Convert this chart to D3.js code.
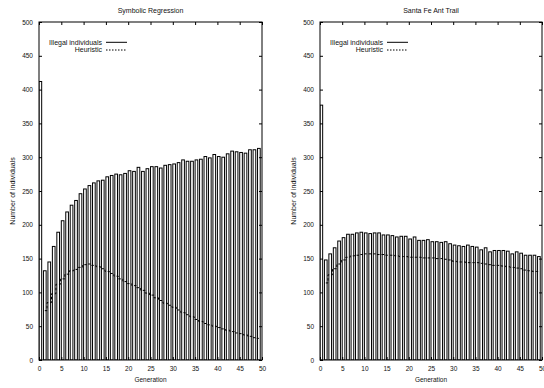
<!DOCTYPE html>
<html>
<head>
<meta charset="utf-8">
<script src="https://cdn.jsdelivr.net/npm/d3@7"></script>
<style>
  body { margin: 0; background: #fff; }
  svg text { font-family: "Liberation Sans", Arial, sans-serif; fill: #111; }
</style>
</head>
<body>
<script>
// generations 0..49
const generations = d3.range(0, 50);

const srIllegal = [412, 132, 145, 168, 189, 206, 219, 229, 236, 246,
  253, 258, 262, 265, 266, 271, 273, 275, 274, 276,
  280, 279, 285, 279, 283, 286, 286, 284, 288, 289,
  290, 292, 296, 294, 294, 296, 297, 301, 299, 304,
  301, 300, 305, 309, 308, 307, 306, 311, 311, 313];
const srHeuristic = [null, 73, 85, 98, 112, 120, 127, 132, 134, 137,
  141, 142, 140, 138, 135, 131, 128, 124, 120, 116,
  113, 110, 107, 103, 99, 96, 92, 88, 84, 81,
  78, 74, 70, 67, 64, 60, 57, 54, 52, 50,
  48, 46, 44, 42, 40, 39, 37, 35, 33, 32];

const antIllegal = [377, 148, 157, 166, 176, 181, 186, 186, 188, 189,
  188, 187, 188, 188, 185, 185, 184, 182, 183, 183,
  179, 182, 177, 177, 178, 175, 175, 174, 175, 172,
  170, 169, 168, 170, 168, 167, 163, 166, 160, 162,
  162, 162, 161, 157, 160, 158, 155, 155, 155, 153];
const antHeuristic = [null, 114, 126, 135, 142, 148, 152, 154, 155, 156,
  157, 157, 157, 156, 156, 155, 155, 154, 153, 153,
  152, 152, 152, 151, 151, 151, 150, 150, 149, 148,
  146, 145, 145, 144, 144, 144, 143, 142, 141, 140,
  140, 139, 138, 137, 136, 135, 133, 132, 131, 131];

const xTicks = d3.range(0, 51, 5);
const yTicks = d3.range(0, 501, 50);

const W = 544, H = 388;
const svg = d3.select("body").append("svg")
  .attr("width", W)
  .attr("height", H);

function panel(opts) {
  const { left, right, top, bottom, title, illegal, heuristic, clipId } = opts;
  const g = svg.append("g");

  const x = d3.scaleLinear().domain([0, 50]).range([left, right]);
  const y = d3.scaleLinear().domain([0, 500]).range([bottom, top]);

  g.append("clipPath").attr("id", clipId)
    .append("rect")
    .attr("x", left).attr("y", top)
    .attr("width", right - left).attr("height", bottom - top);

  const plot = g.append("g").attr("clip-path", `url(#${clipId})`);

  // boxes
  const bw = 0.6;
  plot.selectAll("rect.bar")
    .data(generations)
    .enter()
    .append("rect")
    .attr("class", "bar")
    .attr("x", d => x(d))
    .attr("width", d => x(d + bw) - x(d))
    .attr("y", d => y(illegal[d]))
    .attr("height", d => y(0) - y(illegal[d]))
    .attr("fill", "#fff")
    .attr("stroke", "#000")
    .attr("stroke-width", 1);

  // heuristic steps
  const line = d3.line()
    .defined(d => heuristic[d] != null)
    .x(d => x(d + 0.3))
    .y(d => y(heuristic[d]))
    .curve(d3.curveStep);
  plot.append("path")
    .attr("d", line(generations))
    .attr("fill", "none")
    .attr("stroke", "#000")
    .attr("stroke-width", 1)
    .attr("stroke-dasharray", "2.5,2");

  // axes, gnuplot style: ticks inside on all four sides
  g.append("g")
    .attr("transform", `translate(0,${bottom})`)
    .call(d3.axisBottom(x).tickValues(xTicks).tickSizeInner(-3).tickSizeOuter(0).tickPadding(6))
    .call(a => a.select(".domain").remove());
  g.append("g")
    .attr("transform", `translate(0,${top})`)
    .call(d3.axisTop(x).tickValues(xTicks).tickSizeInner(-3).tickSizeOuter(0).tickFormat(""))
    .call(a => a.select(".domain").remove());
  g.append("g")
    .attr("transform", `translate(${left},0)`)
    .call(d3.axisLeft(y).tickValues(yTicks).tickSizeInner(-3).tickSizeOuter(0).tickPadding(6))
    .call(a => a.select(".domain").remove());
  g.append("g")
    .attr("transform", `translate(${right},0)`)
    .call(d3.axisRight(y).tickValues(yTicks).tickSizeInner(-3).tickSizeOuter(0).tickFormat(""))
    .call(a => a.select(".domain").remove());
  g.selectAll(".tick text").style("font-size", "6.5px").attr("fill", "#111");
  g.selectAll(".tick line").attr("stroke", "#000");

  // border
  g.append("rect")
    .attr("x", left).attr("y", top)
    .attr("width", right - left).attr("height", bottom - top)
    .attr("fill", "none")
    .attr("stroke", "#000")
    .attr("stroke-width", 1);

  // title and labels
  const cx = (left + right) / 2;
  g.append("text")
    .attr("x", cx).attr("y", 13)
    .attr("text-anchor", "middle")
    .style("font-size", "7px")
    .text(title);
  g.append("text")
    .attr("x", cx).attr("y", 382)
    .attr("text-anchor", "middle")
    .style("font-size", "6.5px")
    .text("Generation");
  g.append("text")
    .attr("transform", `translate(${left - 24},${(top + bottom) / 2}) rotate(-90)`)
    .attr("text-anchor", "middle")
    .style("font-size", "7px")
    .text("Number of individuals");

  // legend
  const lx = left + 63;
  g.append("text").attr("x", lx).attr("y", 44.5).attr("text-anchor", "end")
    .style("font-size", "7px").text("Illegal individuals");
  g.append("line").attr("x1", lx + 4).attr("x2", lx + 25).attr("y1", 42.3).attr("y2", 42.3)
    .attr("stroke", "#000").attr("stroke-width", 1);
  g.append("text").attr("x", lx).attr("y", 52).attr("text-anchor", "end")
    .style("font-size", "7px").text("Heuristic");
  g.append("line").attr("x1", lx + 4).attr("x2", lx + 25).attr("y1", 50).attr("y2", 50)
    .attr("stroke", "#000").attr("stroke-width", 1).attr("stroke-dasharray", "1.5,1.5");
}

panel({ left: 39, right: 262, top: 22, bottom: 360, title: "Symbolic Regression",
  illegal: srIllegal, heuristic: srHeuristic, clipId: "clipA" });
panel({ left: 320, right: 542, top: 22, bottom: 360, title: "Santa Fe Ant Trail",
  illegal: antIllegal, heuristic: antHeuristic, clipId: "clipB" });
</script>
</body>
</html>
